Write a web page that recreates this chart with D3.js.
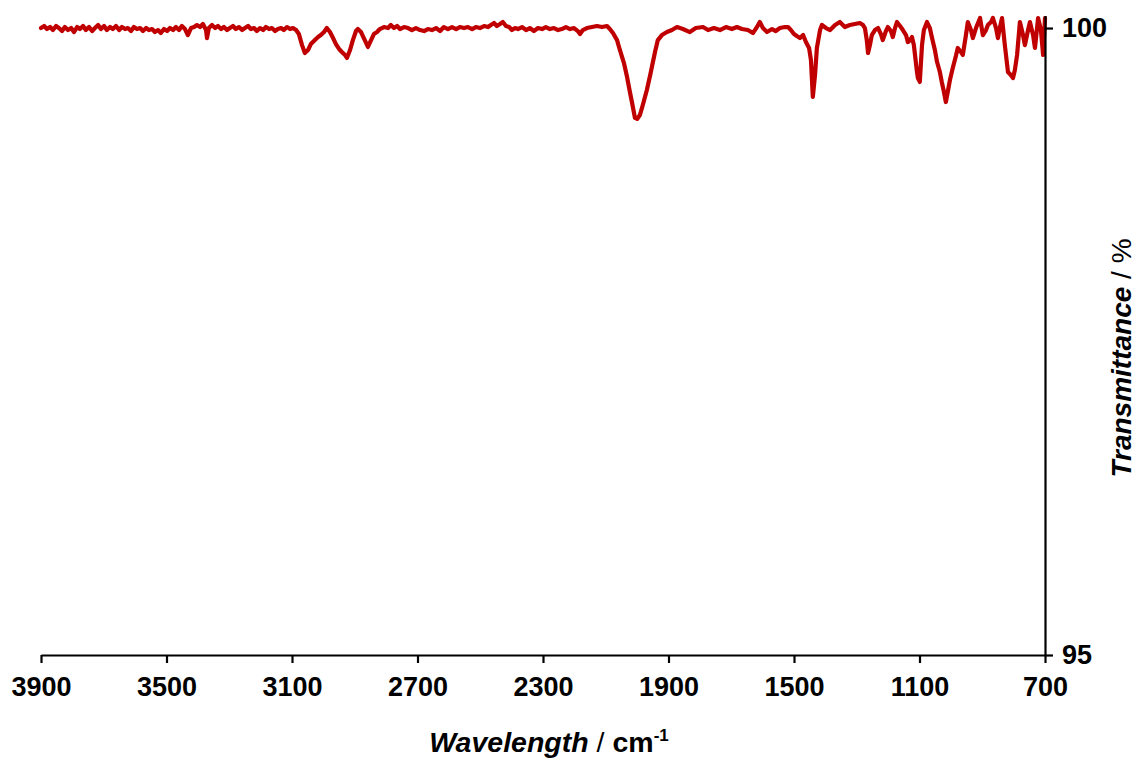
<!DOCTYPE html>
<html>
<head>
<meta charset="utf-8">
<script src="https://cdn.jsdelivr.net/npm/d3@7"></script>
<style>
  html, body { margin: 0; padding: 0; background: #fff; }
  svg { display: block; }
  text { font-family: "Liberation Sans", Arial, sans-serif; fill: #000; }
</style>
</head>
<body>
<svg id="chart" width="1138" height="763"></svg>
<script>
// Wavenumbers (cm-1)
const wavenumbers = [
3900,3890,3881,3871,3862,3852,3843,3833,3824,3814,3804,3795,3785,3776,3766,3757,3747,3737,3728,3718,
3709,3699,3690,3680,3671,3661,3651,3642,3632,3623,3613,3604,3594,3584,3575,3565,3556,3546,3537,3527,
3518,3508,3498,3489,3479,3470,3460,3451,3441,3432,3422,3412,3403,3393,3384,3374,3371,3365,3355,3345,
3336,3326,3317,3307,3298,3288,3279,3269,3259,3250,3240,3231,3221,3212,3202,3192,3183,3173,3164,3154,
3145,3135,3126,3116,3106,3097,3087,3078,3068,3059,3049,3040,3027,3017,3008,2998,2989,2979,2969,2960,
2950,2941,2931,2925,2915,2906,2896,2890,2880,2871,2858,2848,2839,2829,2820,2807,2794,2785,2775,2765,
2756,2743,2730,2718,2705,2692,2679,2667,2654,2641,2628,2616,2603,2590,2577,2565,2552,2539,2526,2514,
2501,2488,2475,2466,2456,2447,2437,2428,2418,2408,2399,2389,2380,2367,2354,2342,2329,2316,2303,2291,
2278,2265,2252,2240,2227,2214,2201,2189,2182,2173,2160,2144,2128,2112,2096,2087,2077,2064,2055,2042,
2032,2023,2016,2007,2000,1991,1981,1969,1959,1953,1943,1934,1921,1905,1889,1873,1854,1832,1813,1790,
1774,1755,1736,1717,1698,1682,1666,1647,1631,1618,1609,1599,1586,1570,1558,1545,1529,1519,1510,1500,
1491,1481,1471,1462,1452,1446,1440,1433,1427,1417,1411,1398,1385,1369,1354,1338,1322,1306,1290,1280,
1274,1268,1264,1258,1252,1242,1232,1223,1217,1207,1201,1191,1185,1178,1172,1162,1153,1143,1137,1130,
1124,1118,1108,1105,1099,1092,1086,1076,1067,1060,1051,1044,1035,1029,1022,1016,1010,1003,994,984,
978,968,962,952,946,936,930,920,907,898,888,882,872,866,856,850,844,837,828,818,
809,802,796,789,780,770,764,754,748,738,732,722,713,706,700
];

// Transmittance (%) at each wavenumber
const transmittance = [
100.000,100.016,99.992,100.008,99.984,100.016,100.000,99.976,100.008,99.984,100.000,99.968,100.008,99.992,100.016,99.984,100.008,99.976,100.000,100.024,
99.992,100.016,99.984,100.008,99.992,100.016,99.984,100.008,99.992,100.000,99.976,100.008,99.992,100.000,99.976,100.000,99.984,99.992,99.968,99.984,
99.960,99.992,99.976,100.000,99.984,100.008,99.984,100.016,99.992,99.944,100.000,100.008,100.024,100.008,100.032,99.984,99.920,100.000,100.024,100.000,
100.016,99.992,100.008,99.984,100.000,100.016,99.992,100.008,99.984,100.000,100.016,99.992,100.000,99.976,100.000,99.984,100.008,99.992,100.000,99.976,
99.992,100.000,99.984,100.008,99.992,100.000,99.984,99.952,99.864,99.801,99.825,99.872,99.904,99.928,99.944,99.968,100.000,99.968,99.920,99.872,
99.833,99.809,99.785,99.761,99.825,99.904,99.976,99.992,99.968,99.920,99.849,99.904,99.952,99.968,99.992,100.008,100.000,100.024,100.000,100.016,
99.992,100.008,100.000,99.984,100.000,99.984,99.976,99.992,99.984,100.000,99.976,100.008,99.992,100.008,99.992,100.008,100.000,100.008,99.992,100.008,
100.000,100.016,100.008,100.024,100.040,100.016,100.032,100.048,100.016,100.008,99.984,100.000,99.992,100.008,99.984,100.000,99.976,100.000,99.992,100.008,
99.992,100.000,99.984,99.992,100.008,99.992,100.000,99.976,99.952,99.984,100.000,100.008,100.016,100.008,100.016,99.992,99.960,99.904,99.825,99.721,
99.609,99.490,99.402,99.283,99.275,99.307,99.394,99.506,99.617,99.689,99.809,99.904,99.944,99.968,99.984,100.008,99.992,99.968,100.000,100.008,
99.984,100.000,99.984,100.008,99.992,100.008,99.992,99.984,99.960,100.008,100.048,100.000,99.968,99.992,99.976,100.000,100.008,100.008,99.984,99.952,
99.936,99.920,99.944,99.888,99.841,99.745,99.450,99.625,99.841,99.984,100.024,100.000,99.984,100.024,100.048,100.008,100.024,100.032,100.040,100.024,
100.000,99.904,99.801,99.864,99.944,99.984,100.000,99.952,99.904,99.976,100.008,99.976,99.928,100.000,100.048,100.016,99.984,99.944,99.888,99.904,
99.928,99.864,99.649,99.601,99.570,99.864,99.984,100.048,100.000,99.920,99.825,99.729,99.649,99.570,99.490,99.410,99.490,99.585,99.681,99.777,
99.841,99.809,99.785,99.944,100.048,99.984,99.920,100.000,100.080,99.944,99.984,100.024,100.048,100.080,100.000,99.920,100.000,100.080,99.864,99.649,
99.625,99.601,99.665,99.785,100.048,99.944,99.864,99.984,100.048,99.944,99.841,100.080,99.984,99.785,100.080
];

const xTicks = [3900, 3500, 3100, 2700, 2300, 1900, 1500, 1100, 700];
const yTicks = [95, 100];

const svg = d3.select("#chart");

const x = d3.scaleLinear().domain([3900, 700]).range([41, 1045]);
const y = d3.scaleLinear().domain([95, 100.1]).range([655, 15.5]);

const data = wavenumbers.map((w, i) => ({ w: w, t: transmittance[i] }));

// Spectrum line
const line = d3.line().x(d => x(d.w)).y(d => y(d.t)).curve(d3.curveLinear);
svg.append("path")
  .datum(data)
  .attr("d", line)
  .attr("fill", "none")
  .attr("stroke", "#c00000")
  .attr("stroke-width", 4.2)
  .attr("stroke-linejoin", "round")
  .attr("stroke-linecap", "round");

// X axis
const xAxis = d3.axisBottom(x).tickValues(xTicks).tickSize(8).tickSizeOuter(0).tickPadding(14).tickFormat(d3.format("d"));
const gx = svg.append("g").attr("transform", "translate(0,655)").call(xAxis);
gx.select(".domain").attr("stroke", "#000").attr("stroke-width", 2.2);
gx.selectAll(".tick line").attr("stroke", "#000").attr("stroke-width", 2.2);
gx.selectAll(".tick text")
  .attr("font-family", "Liberation Sans, Arial, sans-serif")
  .attr("font-size", 27).attr("font-weight", "bold").attr("fill", "#000");

// Y axis on right
const yAxis = d3.axisRight(y).tickValues(yTicks).tickSize(8).tickSizeOuter(0).tickPadding(9).tickFormat(d3.format("d"));
const gy = svg.append("g").attr("transform", "translate(1045,0)").call(yAxis);
gy.select(".domain").attr("stroke", "#000").attr("stroke-width", 2.2);
gy.selectAll(".tick line").attr("stroke", "#000").attr("stroke-width", 2.2);
gy.selectAll(".tick text")
  .attr("font-family", "Liberation Sans, Arial, sans-serif")
  .attr("font-size", 27).attr("font-weight", "bold").attr("fill", "#000");

// X title
const xt = svg.append("text")
  .attr("x", 549).attr("y", 752)
  .attr("text-anchor", "middle")
  .attr("font-size", 28.5);
xt.append("tspan").attr("font-weight", "bold").attr("font-style", "italic").text("Wavelength");
xt.append("tspan").attr("font-weight", "normal").text(" / ");
xt.append("tspan").attr("font-weight", "bold").text("cm");
xt.append("tspan").attr("font-weight", "bold").attr("font-size", 17).attr("dy", -11).text("-1");

// Y title
const yt = svg.append("text")
  .attr("transform", "translate(1131,358) rotate(-90)")
  .attr("text-anchor", "middle")
  .attr("font-size", 28);
yt.append("tspan").attr("font-weight", "bold").attr("font-style", "italic").text("Transmittance");
yt.append("tspan").attr("font-weight", "normal").text("  /  %");
</script>
</body>
</html>
